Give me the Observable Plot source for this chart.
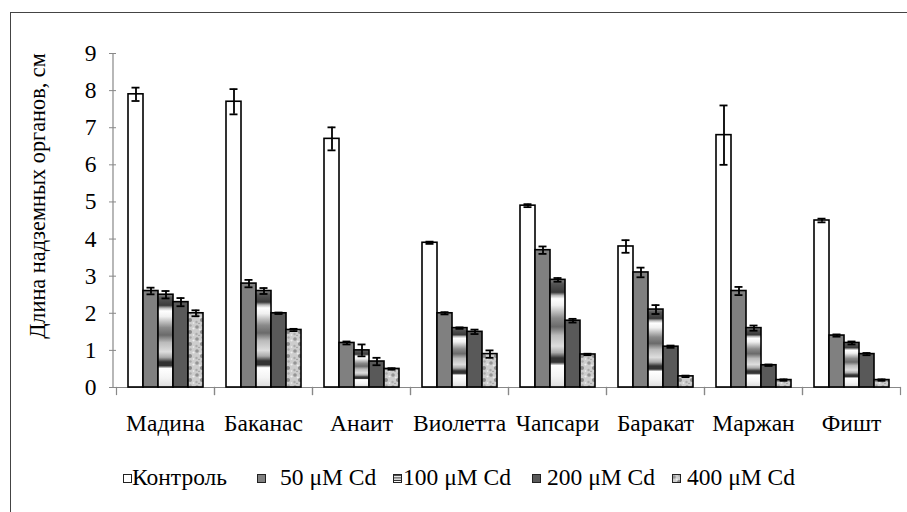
<!DOCTYPE html>
<html>
<head>
<meta charset="utf-8">
<script src="https://cdn.jsdelivr.net/npm/d3@7"></script>
<script src="https://cdn.jsdelivr.net/npm/@observablehq/plot@0.6"></script>
<style>
  html, body { margin: 0; padding: 0; background: #fff; }
  #wrap { position: relative; width: 907px; height: 512px; overflow: hidden; font-family: "Liberation Serif", "Times New Roman", serif; color: #000; }
  #border { position: absolute; left: 10px; top: 12px; width: 1000px; height: 1000px; border: 1px solid #444; box-sizing: border-box; }
  #chart { position: absolute; left: 0; top: 0; }
  #ylabel { position: absolute; left: 38px; top: 196px; transform: translate(-50%, -50%) rotate(-90deg); white-space: nowrap; font-size: 22.3px; }
  .leg { position: absolute; top: 465px; font-size: 23.5px; line-height: 24px; white-space: nowrap; }
  .sw { position: absolute; top: 474px; }
  #chart g[aria-label="y-axis tick"] path { stroke: #888; }
</style>
</head>
<body>
<svg width="0" height="0" style="position:absolute">
  <defs>
    <linearGradient id="g100" x1="0" y1="0" x2="0" y2="1">
      <stop offset="0" stop-color="#888"/>
      <stop offset="0.04" stop-color="#555"/>
      <stop offset="0.12" stop-color="#3a3a3a"/>
      <stop offset="0.15" stop-color="#bbb"/>
      <stop offset="0.18" stop-color="#fff"/>
      <stop offset="0.24" stop-color="#f0f0f0"/>
      <stop offset="0.36" stop-color="#8a8a8a"/>
      <stop offset="0.44" stop-color="#6a6a6a"/>
      <stop offset="0.52" stop-color="#bbb"/>
      <stop offset="0.62" stop-color="#ddd"/>
      <stop offset="0.68" stop-color="#aaa"/>
      <stop offset="0.73" stop-color="#333"/>
      <stop offset="0.77" stop-color="#333"/>
      <stop offset="0.80" stop-color="#fff"/>
      <stop offset="0.90" stop-color="#f4f4f4"/>
      <stop offset="1" stop-color="#ddd"/>
    </linearGradient>
    <pattern id="p400" patternUnits="userSpaceOnUse" width="12" height="12">
      <rect width="12" height="12" fill="#cdcdcd"/>
      <circle cx="2" cy="3" r="1.8" fill="#959595"/>
      <circle cx="7.5" cy="1.5" r="1.2" fill="#a8a8a8"/>
      <circle cx="7" cy="8" r="2" fill="#8a8a8a"/>
      <circle cx="1.5" cy="10" r="1.2" fill="#ababab"/>
      <circle cx="4.8" cy="5.5" r="1.1" fill="#ececec"/>
      <circle cx="10.5" cy="4.5" r="1.1" fill="#efefef"/>
      <circle cx="10.5" cy="11" r="0.9" fill="#e8e8e8"/>
      <circle cx="4" cy="11.5" r="0.8" fill="#9e9e9e"/>
    </pattern>
  </defs>
</svg>
<div id="wrap">
  <div id="border"></div>
  <div id="chart"></div>
  <div id="ylabel"></div>
  <div id="legend"></div>
</div>
<script>
// ---- data ----
const categories = ["Мадина", "Баканас", "Анаит", "Виолетта", "Чапсари", "Баракат", "Маржан", "Фишт"];
const series = ["Контроль", "50 μM Cd", "100 μM Cd", "200 μM Cd", "400 μM Cd"];
const control = [7.9, 7.7, 6.7, 3.9, 4.9, 3.8, 6.8, 4.5];
const cd50    = [2.6, 2.8, 1.2, 2.0, 3.7, 3.1, 2.6, 1.4];
const cd100   = [2.5, 2.6, 1.0, 1.6, 2.9, 2.1, 1.6, 1.2];
const cd200   = [2.3, 2.0, 0.7, 1.5, 1.8, 1.1, 0.6, 0.9];
const cd400   = [2.0, 1.55, 0.5, 0.9, 0.89, 0.3, 0.2, 0.2];
const errControl = [0.18, 0.34, 0.31, 0.03, 0.04, 0.17, 0.8, 0.05];
const err50      = [0.09, 0.10, 0.04, 0.03, 0.10, 0.13, 0.11, 0.03];
const err100     = [0.10, 0.08, 0.16, 0.02, 0.05, 0.12, 0.07, 0.04];
const err200     = [0.11, 0.02, 0.10, 0.06, 0.05, 0.03, 0.02, 0.03];
const err400     = [0.08, 0.03, 0.02, 0.10, 0.02, 0.02, 0.02, 0.02];
const yTicks = [0, 1, 2, 3, 4, 5, 6, 7, 8, 9];
const yLabel = "Длина надземных органов, см";
const fills = ["#ffffff", "#808080", "url(#g100)", "#595959", "url(#p400)"];

const valueSets = [control, cd50, cd100, cd200, cd400];
const errSets = [errControl, err50, err100, err200, err400];
const rows = [];
categories.forEach((c, i) => {
  series.forEach((s, j) => {
    rows.push({cat: c, series: s, value: valueSets[j][i], err: errSets[j][i]});
  });
});

const plot = Plot.plot({
  width: 907,
  height: 440,
  marginLeft: 113,
  marginRight: 5,
  marginTop: 53,
  marginBottom: 53,
  style: {fontFamily: "'Liberation Serif', 'Times New Roman', serif", fontSize: "23.5px", background: "transparent", color: "#000", overflow: "visible"},
  fx: {domain: categories, padding: 0, label: null, tickSize: 0, tickPadding: 27},
  x: {domain: series, axis: null, paddingInner: 0, paddingOuter: 0.72},
  y: {domain: [0, 9], ticks: yTicks, tickSize: 7, tickPadding: 13, label: null, tickFormat: d3.format("d")},
  color: {type: "ordinal", domain: series, range: fills},
  marks: [
    Plot.ruleY([0], {stroke: "#888", strokeWidth: 1.2}),
    Plot.frame({anchor: "left", insetTop: 334, insetBottom: -7, stroke: "#888", strokeWidth: 1.2}),
    Plot.frame({anchor: "right", insetTop: 334, insetBottom: -7, stroke: "#888", strokeWidth: 1.2}),
    Plot.barY(rows, {fx: "cat", x: "series", y: "value", fill: "series", stroke: "#000", strokeWidth: 1.6}),
    Plot.ruleX(rows, {fx: "cat", x: "series", y1: d => d.value - d.err, y2: d => d.value + d.err, stroke: "#000", strokeWidth: 1.8}),
    Plot.tickY(rows, {fx: "cat", x: "series", y: d => d.value - d.err, insetLeft: 3.5, insetRight: 3.5, stroke: "#000", strokeWidth: 1.8}),
    Plot.tickY(rows, {fx: "cat", x: "series", y: d => d.value + d.err, insetLeft: 3.5, insetRight: 3.5, stroke: "#000", strokeWidth: 1.8})
  ]
});
document.getElementById("chart").appendChild(plot);

// y axis line drawn from the plot's own scales
const fxScale = plot.scale("fx");
const yScale = plot.scale("y");
const axisX = fxScale && fxScale.range ? fxScale.range[0] : 113;
d3.select(plot).append("line")
  .attr("x1", axisX).attr("x2", axisX)
  .attr("y1", yScale.apply(0)).attr("y2", yScale.apply(9))
  .attr("stroke", "#888").attr("stroke-width", 1.2);

document.getElementById("ylabel").textContent = yLabel;

// legend
const swLeft = [123, 257, 393, 532, 672];
const txtLeft = [132, 280, 403, 547, 687];
const legend = document.getElementById("legend");
series.forEach((s, j) => {
  const sw = document.createElementNS("http://www.w3.org/2000/svg", "svg");
  sw.setAttribute("class", "sw");
  sw.setAttribute("width", 10);
  sw.setAttribute("height", 10);
  sw.style.left = swLeft[j] + "px";
  sw.innerHTML = `<rect x="0.5" y="0.5" width="8" height="8" fill="${fills[j]}" stroke="#222" stroke-width="1"/>`;
  legend.appendChild(sw);
  const t = document.createElement("div");
  t.className = "leg";
  t.style.left = txtLeft[j] + "px";
  t.textContent = s;
  legend.appendChild(t);
});
</script>
</body>
</html>
